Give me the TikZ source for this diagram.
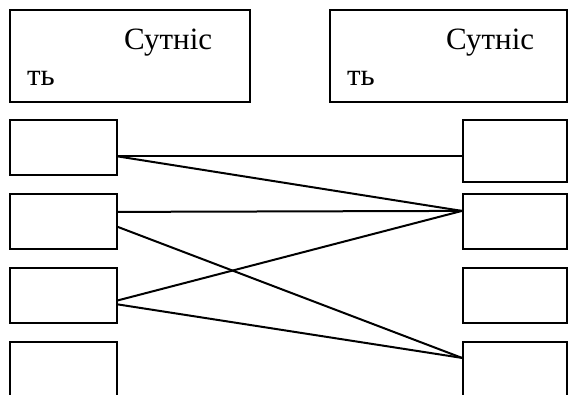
\documentclass[tikz,border=0pt]{standalone}
\usepackage{fontspec}
\setmainfont{Liberation Serif}
\begin{document}
\begin{tikzpicture}[x=1pt,y=-1pt,
  box/.style={draw, line width=1.8pt, inner sep=0pt, anchor=north west},
  bigbox/.style={box, minimum width=240pt, minimum height=92pt},
  lbl/.style={inner sep=0pt, anchor=base west, font=\fontsize{31}{36}\selectfont},
  link/.style={line width=2pt}]
\useasboundingbox (0,0) rectangle (568,394);
\clip (0,0) rectangle (568,394);

% entity headers
\node[bigbox] (e1) at (9,9) {};
\node[bigbox, minimum width=237pt] (e2) at (329,9) {};
\node[lbl] (e1a) at (124,49) {Сутніс};
\node[lbl] (e1b) at (27,85) {ть};
\node[lbl] (e2a) at (446,49) {Сутніс};
\node[lbl] (e2b) at (347,85) {ть};

% attribute boxes, left column
\node[box, minimum width=107pt, minimum height=55pt] (l1) at (9,119) {};
\node[box, minimum width=107pt, minimum height=55pt] (l2) at (9,193) {};
\node[box, minimum width=107pt, minimum height=55pt] (l3) at (9,267) {};
\node[box, minimum width=107pt, minimum height=55pt] (l4) at (9,341) {};

% attribute boxes, right column
\node[box, minimum width=104pt, minimum height=62pt] (r1) at (462,119) {};
\node[box, minimum width=104pt, minimum height=55pt] (r2) at (462,193) {};
\node[box, minimum width=104pt, minimum height=55pt] (r3) at (462,267) {};
\node[box, minimum width=104pt, minimum height=55pt] (r4) at (462,341) {};

% correspondences
\draw[link] ([yshift=-9pt]l1.east) -- ([yshift=-5.5pt]r1.west);
\draw[link] ([yshift=-9pt]l1.east) -- ([yshift=10.5pt]r2.west);
\draw[link] ([yshift=9.5pt]l2.east) -- ([yshift=10.5pt]r2.west);
\draw[link] ([yshift=-5.5pt]l2.east) -- ([yshift=11.5pt]r4.west);
\draw[link] ([yshift=-5pt]l3.east) -- ([yshift=10.5pt]r2.west);
\draw[link] ([yshift=-9pt]l3.east) -- ([yshift=11.5pt]r4.west);
\end{tikzpicture}
\end{document}
